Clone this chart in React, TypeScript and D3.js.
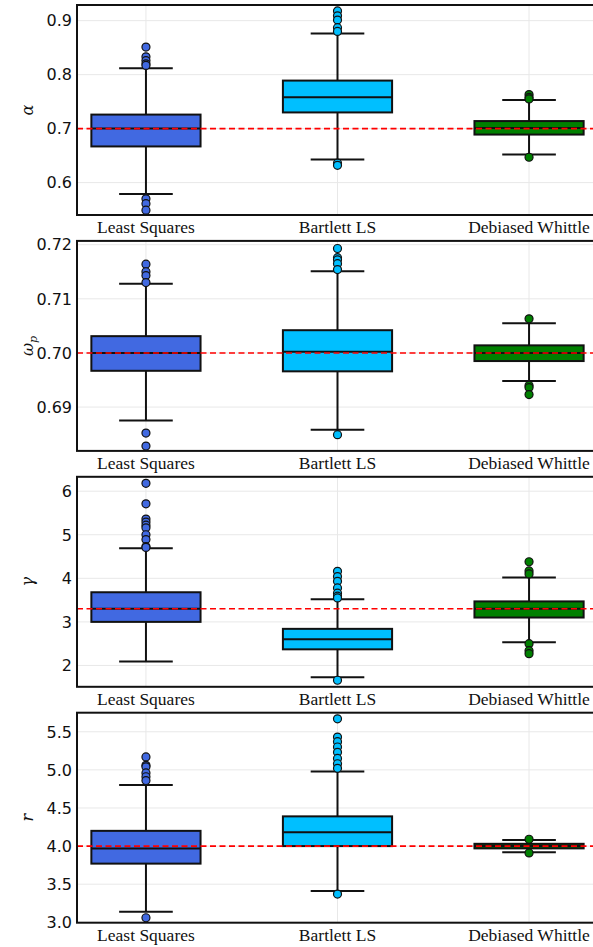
import React, { useRef, useEffect } from 'react';
import * as d3 from 'd3';

const methods = ['Least Squares', 'Bartlett LS', 'Debiased Whittle'];
const colors = ['#4169E1', '#00BFFF', '#008000'];

// box stats per method: [whiskerLo, q1, median, q3, whiskerHi]
const alphaStats = [
  [0.579, 0.667, 0.7, 0.726, 0.812],
  [0.643, 0.73, 0.758, 0.789, 0.876],
  [0.652, 0.689, 0.701, 0.714, 0.753],
];
const alphaOutliers = [
  [0.851, 0.833, 0.826, 0.82, 0.817, 0.57, 0.561, 0.549],
  [0.918, 0.909, 0.901, 0.887, 0.88, 0.636, 0.632],
  [0.763, 0.758, 0.755, 0.647],
];

const omegaStats = [
  [0.6875, 0.6967, 0.7, 0.7031, 0.7128],
  [0.6858, 0.6966, 0.7002, 0.7042, 0.7151],
  [0.6948, 0.6985, 0.7, 0.7014, 0.7055],
];
const omegaOutliers = [
  [0.7164, 0.715, 0.7143, 0.713, 0.6852, 0.6828],
  [0.7193, 0.7176, 0.7172, 0.7165, 0.7154, 0.6849],
  [0.7063, 0.694, 0.6936, 0.6923],
];

const gammaStats = [
  [2.09, 3.0, 3.3, 3.68, 4.69],
  [1.73, 2.37, 2.6, 2.84, 3.52],
  [2.53, 3.1, 3.3, 3.47, 4.02],
];
const gammaOutliers = [
  [6.18, 5.71, 5.36, 5.29, 5.22, 5.16, 5.0, 4.89, 4.73, 4.71],
  [4.16, 4.04, 3.93, 3.78, 3.66, 3.59, 3.55, 1.66],
  [4.38, 4.17, 4.1, 2.5, 2.34, 2.27],
];

const rStats = [
  [3.14, 3.77, 3.97, 4.2, 4.8],
  [3.41, 4.0, 4.18, 4.39, 4.98],
  [3.92, 3.97, 4.0, 4.03, 4.08],
];
const rOutliers = [
  [5.17, 5.06, 5.04, 4.96, 4.91, 4.86, 3.06],
  [5.67, 5.43, 5.37, 5.3, 5.23, 5.15, 5.08, 5.02, 3.37],
  [4.09, 3.91],
];

const panels = [
  { label: 'α', sub: '', stats: alphaStats, outliers: alphaOutliers, domain: [0.54, 0.929], ticks: [0.6, 0.7, 0.8, 0.9], fmt: '.1f', ref: 0.7 },
  { label: 'ω', sub: 'p', stats: omegaStats, outliers: omegaOutliers, domain: [0.6819, 0.7207], ticks: [0.69, 0.7, 0.71, 0.72], fmt: '.2f', ref: 0.7 },
  { label: 'γ', sub: '', stats: gammaStats, outliers: gammaOutliers, domain: [1.51, 6.33], ticks: [2, 3, 4, 5, 6], fmt: 'd', ref: 3.3 },
  { label: 'r', sub: '', stats: rStats, outliers: rOutliers, domain: [2.995, 5.75], ticks: [3, 3.5, 4, 4.5, 5, 5.5], fmt: '.1f', ref: 4.0 },
];

const W = 593;
const H = 947;
const left = 77;
const right = 598;
const panelH = 210;
const step = 235.9;
const top0 = 5;

export default function App() {
  const svgRef = useRef<SVGSVGElement>(null);

  useEffect(() => {
    const svg = d3.select(svgRef.current);
    svg.selectAll('*').remove();

    const x = d3.scaleLinear().domain([0.64, 3.36]).range([left, right]);
    const boxW = x(1.285) - x(1);
    const capW = x(1.14) - x(1);

    panels.forEach((p, pi) => {
      const top = top0 + pi * step;
      const bottom = top + panelH;
      const y = d3.scaleLinear().domain(p.domain).range([bottom, top]);
      const g = svg.append('g');

      // grid
      g.selectAll('.hgrid')
        .data(p.ticks)
        .join('line')
        .attr('x1', left)
        .attr('x2', right)
        .attr('y1', (d) => y(d))
        .attr('y2', (d) => y(d))
        .attr('stroke', '#e8e8e8')
        .attr('stroke-width', 1);
      g.selectAll('.vgrid')
        .data(methods)
        .join('line')
        .attr('x1', (d, i) => x(i + 1))
        .attr('x2', (d, i) => x(i + 1))
        .attr('y1', top)
        .attr('y2', bottom)
        .attr('stroke', '#e8e8e8')
        .attr('stroke-width', 1);

      // y tick labels
      g.selectAll('.ytick')
        .data(p.ticks)
        .join('text')
        .attr('x', left - 5)
        .attr('y', (d) => y(d))
        .attr('dy', '0.36em')
        .attr('text-anchor', 'end')
        .attr('font-family', 'DejaVu Sans')
        .attr('font-size', 16)
        .attr('fill', '#111')
        .text((d) => d3.format(p.fmt)(d));

      // x labels
      g.selectAll('.xtick')
        .data(methods)
        .join('text')
        .attr('x', (d, i) => x(i + 1))
        .attr('y', bottom + 18)
        .attr('text-anchor', 'middle')
        .attr('font-family', 'Liberation Serif')
        .attr('font-size', 17.5)
        .attr('fill', '#111')
        .text((d) => d);

      // y axis label
      const lab = g
        .append('text')
        .attr('transform', `translate(33,${(top + bottom) / 2}) rotate(-90)`)
        .attr('text-anchor', 'middle')
        .attr('font-family', 'DejaVu Serif')
        .attr('font-style', 'italic')
        .attr('font-size', 16)
        .attr('fill', '#111');
      lab.append('tspan').text(p.label);
      if (p.sub) lab.append('tspan').attr('font-size', 11).attr('dy', 4).text(p.sub);

      // boxes
      p.stats.forEach((s, i) => {
        const cx = x(i + 1);
        const [lo, q1, med, q3, hi] = s;
        const bg = g.append('g');
        bg.append('line')
          .attr('x1', cx).attr('x2', cx)
          .attr('y1', y(q3)).attr('y2', y(hi))
          .attr('stroke', '#111').attr('stroke-width', 2);
        bg.append('line')
          .attr('x1', cx).attr('x2', cx)
          .attr('y1', y(q1)).attr('y2', y(lo))
          .attr('stroke', '#111').attr('stroke-width', 2);
        bg.selectAll('.cap')
          .data([lo, hi])
          .join('line')
          .attr('x1', cx - capW).attr('x2', cx + capW)
          .attr('y1', (d) => y(d)).attr('y2', (d) => y(d))
          .attr('stroke', '#111').attr('stroke-width', 2);
        bg.append('rect')
          .attr('x', cx - boxW)
          .attr('width', boxW * 2)
          .attr('y', y(q3))
          .attr('height', y(q1) - y(q3))
          .attr('fill', colors[i])
          .attr('stroke', '#111')
          .attr('stroke-width', 2);
        bg.append('line')
          .attr('x1', cx - boxW).attr('x2', cx + boxW)
          .attr('y1', y(med)).attr('y2', y(med))
          .attr('stroke', '#111').attr('stroke-width', 2);
        bg.selectAll('circle')
          .data(p.outliers[i])
          .join('circle')
          .attr('cx', cx)
          .attr('cy', (d) => y(d))
          .attr('r', 4)
          .attr('fill', colors[i])
          .attr('stroke', '#111')
          .attr('stroke-width', 1.2);
      });

      // reference line
      g.append('line')
        .attr('x1', left).attr('x2', right)
        .attr('y1', y(p.ref)).attr('y2', y(p.ref))
        .attr('stroke', '#ff0000')
        .attr('stroke-width', 1.6)
        .attr('stroke-dasharray', '6,3.5');

      // frame
      g.append('rect')
        .attr('x', left)
        .attr('y', top)
        .attr('width', right - left)
        .attr('height', panelH)
        .attr('fill', 'none')
        .attr('stroke', '#111')
        .attr('stroke-width', 2);
    });
  }, []);

  return (
    <svg
      ref={svgRef}
      width={W}
      height={H}
      style={{ position: 'absolute', left: 0, top: 0, background: '#fff' }}
    />
  );
}
